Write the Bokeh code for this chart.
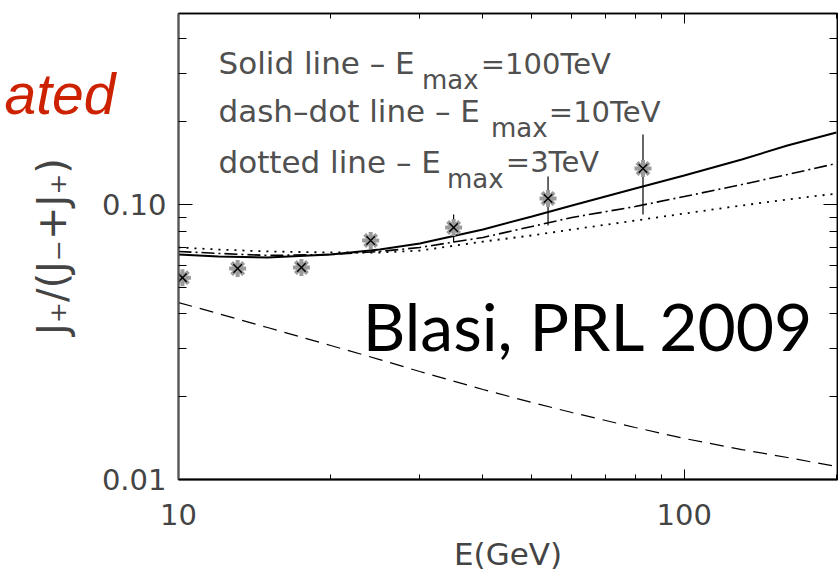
from bokeh.plotting import figure
from bokeh.models import (FixedTicker, PrintfTickFormatter, LogAxis, Label)
from bokeh.embed import file_html
from bokeh.resources import INLINE

# Model curves: positron fraction vs energy
energy_grid = [10, 12, 15, 20, 25, 30, 40, 50, 60, 80, 100, 130, 160, 200]
frac_emax_100tev = [0.0658, 0.0647, 0.0642, 0.0658, 0.0686, 0.0721, 0.0811,
                    0.0905, 0.0992, 0.1143, 0.1275, 0.1458, 0.1639, 0.1827]
frac_emax_10tev = [0.0675, 0.0664, 0.0653, 0.0658, 0.0675, 0.0698, 0.0759,
                   0.0832, 0.0897, 0.0983, 0.1069, 0.1182, 0.1285, 0.1410]
frac_emax_3tev = [0.0698, 0.0686, 0.0675, 0.0669, 0.0669, 0.0680, 0.0733,
                  0.0772, 0.0811, 0.0874, 0.0927, 0.0992, 0.1043, 0.1096]
frac_secondary = [0.0440, 0.0401, 0.0357, 0.0307, 0.0273, 0.0247, 0.02125,
                  0.01905, 0.01752, 0.01546, 0.0141, 0.01285, 0.01202, 0.01115]

# Measured points with error bars
data_energy = [10.18, 13.09, 17.5, 23.99, 35.0, 53.8, 82.9]
data_frac = [0.0542, 0.0585, 0.0590, 0.0740, 0.0825, 0.1052, 0.1352]
data_lo = [0.0532, 0.0576, 0.0581, 0.0692, 0.0728, 0.0839, 0.0920]
data_hi = [0.0553, 0.0595, 0.0599, 0.0791, 0.0920, 0.1264, 0.1798]

# Axis ticks
x_major = [10, 100]
x_minor = [20, 30, 40, 50, 60, 70, 80, 90, 200]
y_major = [0.01, 0.1]
y_minor = [0.02, 0.03, 0.04, 0.05, 0.06, 0.07, 0.08, 0.09, 0.2, 0.3, 0.4, 0.5]

# Legend text pieces
legend_main = ["Solid line \u2013 E", "dash\u2013dot line \u2013 E", "dotted line \u2013 E"]
legend_sub = ["max", "max", "max"]
legend_val = ["=100TeV", "=10TeV", "=3TeV"]

p = figure(width=838, height=578, x_axis_type="log", y_axis_type="log",
           x_range=(10, 201), y_range=(0.01, 0.495),
           output_backend="svg", toolbar_location=None,
           min_border_left=178, min_border_right=1,
           min_border_top=13, min_border_bottom=99)
p.grid.visible = False
p.outline_line_color = "black"
p.outline_line_width = 1.5
p.background_fill_color = "white"
p.border_fill_color = "white"

tick_font = "DejaVu Sans"
text_grey = "#444444"

xa = p.xaxis[0]
xa.ticker = FixedTicker(ticks=x_major, minor_ticks=x_minor)
xa.formatter = PrintfTickFormatter(format="%d")
xa.major_tick_in = 10
xa.major_tick_out = 0
xa.minor_tick_in = 5
xa.minor_tick_out = 0
xa.major_label_standoff = 24
xa.major_label_text_font = tick_font
xa.major_label_text_font_size = "29px"
xa.major_label_text_color = text_grey
xa.axis_label = "E(GeV)"
xa.axis_label_text_font = tick_font
xa.axis_label_text_font_style = "normal"
xa.axis_label_text_font_size = "31px"
xa.axis_label_text_color = text_grey
xa.axis_label_standoff = 8
xa.axis_line_width = 2

ya = p.yaxis[0]
ya.ticker = FixedTicker(ticks=y_major, minor_ticks=y_minor)
ya.formatter = PrintfTickFormatter(format="%.2f")
ya.major_tick_in = 14
ya.major_tick_out = 0
ya.minor_tick_in = 8
ya.minor_tick_out = 0
ya.major_label_standoff = 12
ya.major_label_text_font = tick_font
ya.major_label_text_font_size = "29px"
ya.major_label_text_color = text_grey
ya.axis_label = "J\u208a/(J\u208b+J\u208a)"
ya.axis_label_text_font = tick_font
ya.axis_label_text_font_style = "normal"
ya.axis_label_text_font_size = "40px"
ya.axis_label_text_color = text_grey
ya.axis_label_standoff = 24
ya.axis_line_color = "#555555"
ya.axis_line_width = 2

# Red caption fragment in the left margin, drawn as the single label of a bare axis
caption_y = 0.2532
caption = LogAxis(ticker=FixedTicker(ticks=[caption_y], minor_ticks=[]),
                  formatter=PrintfTickFormatter(format="ated"),
                  axis_line_color=None, major_tick_line_color=None,
                  minor_tick_line_color=None, major_tick_out=0, minor_tick_out=0,
                  major_label_standoff=-90,
                  major_label_text_font="Liberation Sans",
                  major_label_text_font_style="italic",
                  major_label_text_font_size="57px",
                  major_label_text_color="#cc2200")
p.add_layout(caption, "left")

# Mirrored tick marks on the top and right sides (no labels)
top = LogAxis(ticker=FixedTicker(ticks=x_major, minor_ticks=x_minor),
              major_tick_in=10, major_tick_out=0, minor_tick_in=5, minor_tick_out=0,
              major_label_text_font_size="1px", major_label_text_color=None,
              major_label_standoff=0, axis_line_width=1.5)
right = LogAxis(ticker=FixedTicker(ticks=y_major, minor_ticks=y_minor),
                major_tick_in=14, major_tick_out=0, minor_tick_in=8, minor_tick_out=0,
                major_label_text_font_size="1px", major_label_text_color=None,
                major_label_standoff=0, axis_line_width=1.5)
p.add_layout(top, "above")
p.add_layout(right, "right")

# Model curves
p.line(energy_grid, frac_emax_100tev, line_color="black", line_width=2)
p.line(energy_grid, frac_emax_10tev, line_color="black", line_width=1.6,
       line_dash="13 4 2 4")
p.line(energy_grid, frac_emax_3tev, line_color="black", line_width=1.8,
       line_dash="2 6")
p.line(energy_grid, frac_secondary, line_color="black", line_width=1.2,
       line_dash="14 8")

# Data points
p.segment(x0=data_energy, y0=data_lo, x1=data_energy, y1=data_hi,
          line_color="black", line_width=1.2)
p.scatter(data_energy, data_frac, marker="asterisk", size=17,
          line_color="#9a9a9a", line_width=4)
p.scatter(data_energy, data_frac, marker="x", size=12,
          line_color="black", line_width=1.5)

# Legend written inside the frame
legend_font = "DejaVu Sans"
main_y = [0.3276, 0.2191, 0.1430]
val_y = [0.3254, 0.2177, 0.1432]
sub_x = [30.3, 41.5, 33.95]
sub_y = [0.2841, 0.1900, 0.1240]
val_x = [39.6, 54.0, 44.4]
for i in range(3):
    p.add_layout(Label(x=12.0, y=main_y[i], text=legend_main[i],
                       text_font=legend_font, text_font_size="31px",
                       text_color="#505050", text_baseline="alphabetic"))
    p.add_layout(Label(x=sub_x[i], y=sub_y[i], text=legend_sub[i],
                       text_font=legend_font, text_font_size="26px",
                       text_color="#505050", text_baseline="alphabetic"))
    p.add_layout(Label(x=val_x[i], y=val_y[i], text=legend_val[i],
                       text_font=legend_font, text_font_size="29px",
                       text_color="#505050", text_baseline="alphabetic"))

p.add_layout(Label(x=23.14, y=0.0363, text="Blasi, PRL 2009",
                   text_font="Lato", text_font_size="66px",
                   text_color="black", text_baseline="alphabetic"))

open("out.html", "w").write(file_html(p, INLINE))
